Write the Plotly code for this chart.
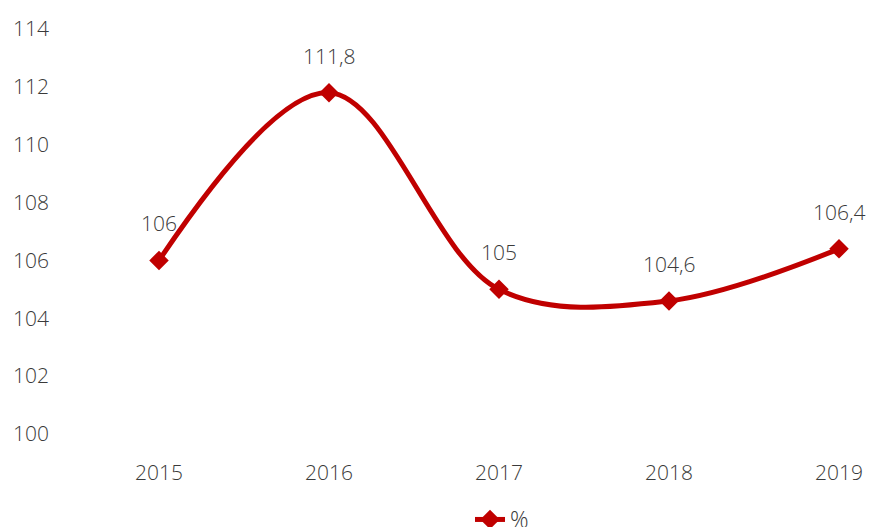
import plotly.graph_objects as go

years = ["2015", "2016", "2017", "2018", "2019"]
values = [106, 111.8, 105, 104.6, 106.4]
labels = [str(v).replace(".", ",") for v in values]
series_name = "%"

RED = "#C00000"
TXT = "#3A3A3A"
FONT = "Open Sans"

fig = go.Figure()
fig.add_trace(go.Scatter(
    x=years, y=values, name=series_name,
    mode="lines+markers",
    line=dict(color=RED, width=5, shape="spline", smoothing=1.0),
    marker=dict(symbol="diamond", size=15, color=RED),
    cliponaxis=False,
))

for i, (yv, t) in enumerate(zip(values, labels)):
    fig.add_annotation(x=i, y=yv, xref="x", yref="y", text=t, showarrow=False,
                       yshift=37, xanchor="center", yanchor="middle",
                       font=dict(family=FONT, size=21, color=TXT, weight=300))

L = 50
W = 869
px_per_cat = 170
first_px = 159
lo = -(first_px - L) / px_per_cat
hi = (W - L) / px_per_cat + lo

fig.update_layout(
    width=869, height=527,
    margin=dict(l=L, r=0, t=29, b=93, autoexpand=False),
    paper_bgcolor="white", plot_bgcolor="white",
    font=dict(family=FONT, size=21, color=TXT, weight=300),
    showlegend=True,
    legend=dict(orientation="h", x=(470 - L) / (W - L), xanchor="left",
                y=-(498 - 434) / 405, yanchor="top",
                font=dict(family=FONT, size=23, color=TXT, weight=300)),
    xaxis=dict(type="category", range=[lo, hi], showgrid=False, showline=False,
               zeroline=False, ticks="", ticklabelstandoff=24, automargin=False),
    yaxis=dict(range=[100, 114], dtick=2, showgrid=False, showline=False,
               zeroline=False, ticks="", ticklabelstandoff=0, automargin=False),
)

fig.write_html("out.html", config={"displayModeBar": False},
               post_script="document.body.style.margin='0';document.body.style.overflow='hidden';")
